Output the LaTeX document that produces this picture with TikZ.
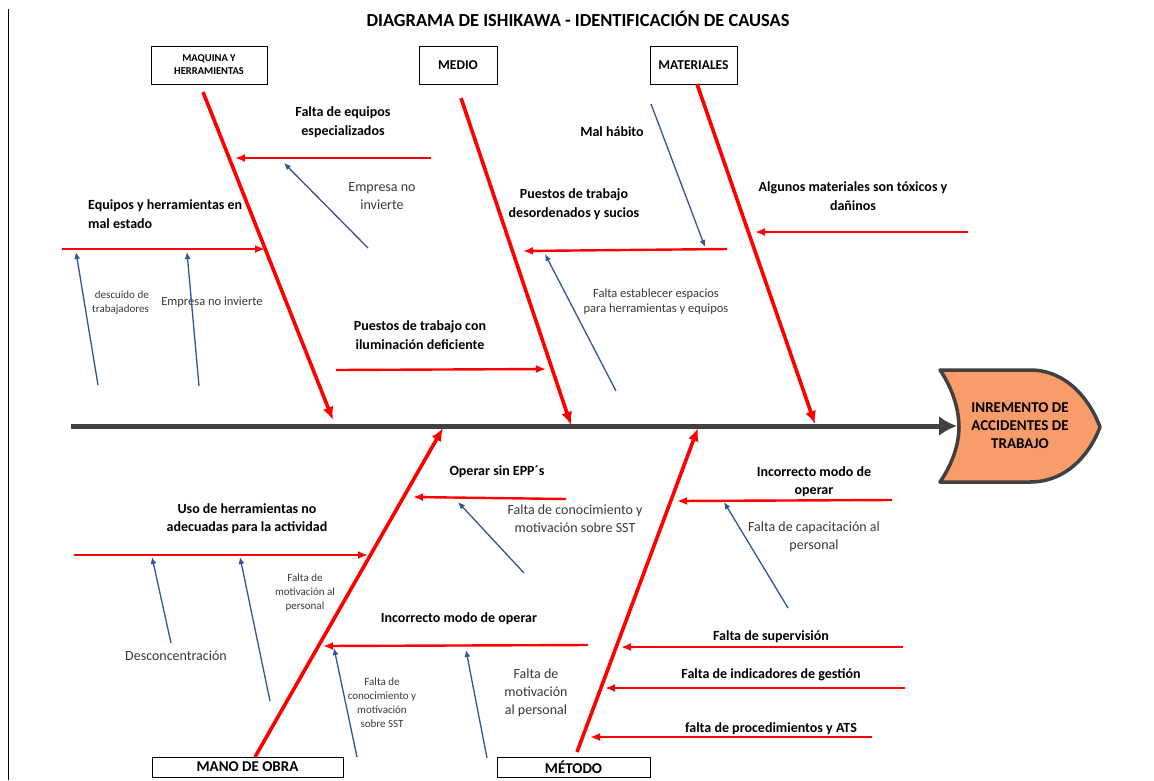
\documentclass[tikz,border=0pt]{standalone}
\usepackage{fontspec}
\setmainfont{Carlito}
\usetikzlibrary{arrows.meta}

\definecolor{boneRed}{RGB}{255,0,0}
\definecolor{causeBlue}{RGB}{47,85,151}
\definecolor{spineGray}{RGB}{64,64,64}
\definecolor{headOrange}{RGB}{248,157,106}

\tikzset{
    bone/.style = {line width=3.6pt, boneRed, -{Latex[length=13pt,width=11pt]}},
    subbone/.style = {line width=2.4pt, boneRed, -{Latex[length=10pt,width=8pt]}},
    cause/.style = {line width=1.3pt, causeBlue, -{Latex[length=7pt,width=6pt]}},
    catbox/.style = {draw, line width=0.8pt, inner sep=0pt, align=center, font=\bfseries\fontsize{15}{17}\selectfont},
    effect/.style = {align=center, inner sep=0pt, font=\bfseries\fontsize{15}{18}\selectfont},
    bold label/.style = {align=center, inner sep=0pt, font=\bfseries\fontsize{14}{18.5}\selectfont},
    note/.style = {align=center, inner sep=0pt, text=black!78, font=\fontsize{14}{18.5}\selectfont},
    small note/.style = {align=center, inner sep=0pt, text=black!78, font=\fontsize{11}{14}\selectfont}
}

\begin{document}
\begin{tikzpicture}[x=1pt, y=-1pt]
    \useasboundingbox (0,0) rectangle (1154,780);
    \draw[line width=0.8pt] (8,9) -- (8,780);

    \node[font=\bfseries\fontsize{18.4}{21}\selectfont] (title) at (578,19) {DIAGRAMA DE ISHIKAWA - IDENTIFICACIÓN DE CAUSAS};

    % category boxes
    \node[catbox, minimum width=116pt, minimum height=38pt, font=\bfseries\fontsize{10.5}{13}\selectfont] (maq) at (209,65) {MAQUINA Y\\HERRAMIENTAS};
    \node[catbox, minimum width=78pt, minimum height=38pt, font=\bfseries\fontsize{13.5}{16}\selectfont] (medio) at (458,65) {MEDIO};
    \node[catbox, minimum width=87pt, minimum height=38pt, font=\bfseries\fontsize{13.5}{16}\selectfont] (mat) at (693.5,65) {MATERIALES};
    \node[catbox, minimum width=191pt, minimum height=20pt] (mano) at (247.5,767) {MANO DE OBRA};
    \node[catbox, minimum width=153pt, minimum height=20pt] (metodo) at (573.5,767) {MÉTODO};

    % head
    \draw[line width=3.5pt, spineGray, fill=headOrange, line join=round]
        (940,370) -- (1030,370) .. controls (1070,370) and (1092,405) .. (1100,427)
        .. controls (1092,449) and (1070,482) .. (1030,482) -- (940,482)
        .. controls (955,460) and (959,440) .. (959,427)
        .. controls (959,414) and (955,392) .. (940,370) -- cycle;
    \node[effect] (head) at (1020,426) {INREMENTO DE\\ACCIDENTES DE\\TRABAJO};

    % spine
    \path (71,426) coordinate (spA) (957,426) coordinate (spB);
    \draw[line width=5pt, spineGray, -{Latex[length=18pt,width=20pt]}] (spA) -- (spB);

    % labels, upper half
    \node[bold label] (eqEsp) at (343,122) {Falta de equipos\\especializados};
    \node[note] (empNo) at (382,196) {Empresa no\\invierte};
    \node[bold label, align=left, anchor=west] (eqMal) at (88,214) {Equipos y herramientas en\\mal estado};
    \node[small note, align=right, anchor=east] (descuido) at (149,303) {descuido de\\trabajadores};
    \node[note, font=\fontsize{12.5}{15}\selectfont] (empNo2) at (212,302) {Empresa no invierte};
    \node[bold label] (ilum) at (420,335) {Puestos de trabajo con\\iluminación deficiente};
    \node[bold label] (habito) at (612,132) {Mal hábito};
    \node[bold label] (desord) at (574,204) {Puestos de trabajo\\desordenados y sucios};
    \node[note, font=\fontsize{12.5}{15}\selectfont] (espacios) at (656,301.5) {Falta establecer espacios\\para herramientas y equipos};
    \node[bold label] (toxicos) at (853,196) {Algunos materiales son tóxicos y\\dañinos};

    % labels, lower half
    \node[bold label] (epp) at (497,472) {Operar sin EPP´s};
    \node[note] (conoc) at (575,518.5) {Falta de conocimiento y\\motivación sobre SST};
    \node[bold label] (uso) at (247,518.5) {Uso de herramientas no\\adecuadas para la actividad};
    \node[small note] (motiv) at (305,593) {Falta de\\motivación al\\personal};
    \node[note] (descon) at (176,656) {Desconcentración};
    \node[bold label] (modoIzq) at (459,619) {Incorrecto modo de operar};
    \node[small note] (conoc2) at (382,703) {Falta de\\conocimiento y\\motivación\\sobre SST};
    \node[note, font=\fontsize{14}{18}\selectfont] (motiv2) at (536,693) {Falta de\\motivación\\al personal};
    \node[bold label] (modoDer) at (814,481.5) {Incorrecto modo de\\operar};
    \node[note] (capac) at (814,537) {Falta de capacitación al\\personal};
    \node[bold label] (superv) at (771,637) {Falta de supervisión};
    \node[bold label] (indic) at (771,675) {Falta de indicadores de gestión};
    \node[bold label] (proced) at (771,729) {falta de procedimientos y ATS};

    % main bones
    \path (203,92) coordinate (maqA) (333,420) coordinate (maqB)
          (461,98) coordinate (medA) (571,425) coordinate (medB)
          (697,84) coordinate (matA) (815,424) coordinate (matB)
          (255,757) coordinate (manA) (443,428) coordinate (manB)
          (577,752) coordinate (metA) (698,428) coordinate (metB);
    \draw[bone] (maqA) -- (maqB);
    \draw[bone] (medA) -- (medB);
    \draw[bone] (matA) -- (matB);
    \draw[bone] (manA) -- (manB);
    \draw[bone] (metA) -- (metB);

    % sub bones
    \path (431,158) coordinate (s1a) (235,158) coordinate (s1b)
          (62,249) coordinate (s2a) (265,249) coordinate (s2b)
          (336,370) coordinate (s3a) (546,369) coordinate (s3b)
          (727,249) coordinate (s4a) (523,251) coordinate (s4b)
          (968,232) coordinate (s5a) (755,232) coordinate (s5b)
          (566,499) coordinate (s6a) (413,497) coordinate (s6b)
          (74,555) coordinate (s7a) (368,555) coordinate (s7b)
          (588,645) coordinate (s8a) (323,646) coordinate (s8b)
          (892,500) coordinate (s9a) (677,501) coordinate (s9b)
          (903,647) coordinate (s10a) (621,647) coordinate (s10b)
          (905,688) coordinate (s11a) (605,688) coordinate (s11b)
          (872,737) coordinate (s12a) (590,737) coordinate (s12b);
    \foreach \s in {1,...,12}
        \draw[subbone] (s\s a) -- (s\s b);

    % causes
    \path (368,248) coordinate (c1a) (284,163) coordinate (c1b)
          (98,385) coordinate (c2a) (76,252) coordinate (c2b)
          (199,386) coordinate (c3a) (187,252) coordinate (c3b)
          (651,104) coordinate (c4a) (705,247) coordinate (c4b)
          (616,391) coordinate (c5a) (545,254) coordinate (c5b)
          (524,573) coordinate (c6a) (458,502) coordinate (c6b)
          (171,643) coordinate (c7a) (152,557) coordinate (c7b)
          (270,701) coordinate (c8a) (240,557) coordinate (c8b)
          (357,757) coordinate (c9a) (334,648) coordinate (c9b)
          (487,758) coordinate (c10a) (466,650) coordinate (c10b)
          (788,608) coordinate (c11a) (724,502) coordinate (c11b);
    \foreach \c in {1,...,11}
        \draw[cause] (c\c a) -- (c\c b);
\end{tikzpicture}
\end{document}
